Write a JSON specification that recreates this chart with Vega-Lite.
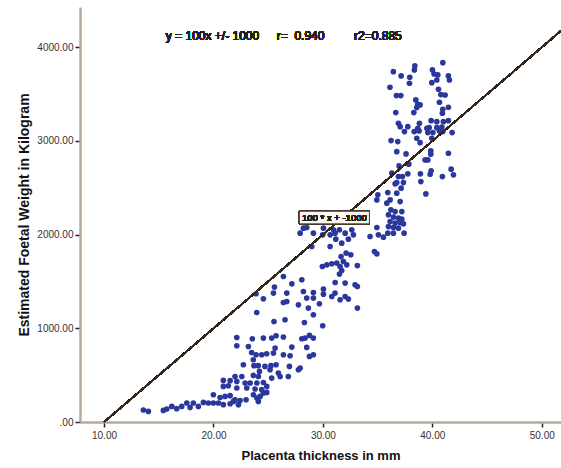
{
  "$schema": "https://vega.github.io/schema/vega-lite/v6.json",
  "width": 481,
  "height": 415,
  "autosize": {"type": "none"},
  "padding": {"left": 80, "top": 7, "right": 0, "bottom": 46},
  "background": "white",
  "config": {
    "view": {"stroke": null},
    "font": "Liberation Sans",
    "axis": {"grid": false, "domainColor": "#b8aa9c", "domainWidth": 2.5, "tickColor": "#222222", "tickWidth": 1.5, "tickSize": 5, "labelFont": "Liberation Sans", "labelFontSize": 10, "labelColor": "#333333", "titleFont": "Liberation Sans", "titleFontWeight": "bold", "titleColor": "#111111"}
  },
  "data": {"values": [
    {"t":38.40,"w":3801},{"t":38.36,"w":3758},{"t":40.96,"w":3836},{"t":36.44,"w":3740},{"t":37.15,"w":3694},
    {"t":37.94,"w":3680},{"t":40.01,"w":3758},{"t":40.16,"w":3715},{"t":40.50,"w":3705},{"t":41.47,"w":3694},
    {"t":41.56,"w":3651},{"t":40.41,"w":3651},{"t":39.95,"w":3622},{"t":37.91,"w":3616},{"t":36.13,"w":3573},
    {"t":40.56,"w":3552},{"t":36.72,"w":3484},{"t":37.12,"w":3484},{"t":40.78,"w":3495},{"t":41.17,"w":3491},
    {"t":38.49,"w":3438},{"t":38.67,"w":3392},{"t":38.88,"w":3385},{"t":40.65,"w":3413},{"t":38.58,"w":3356},
    {"t":36.66,"w":3303},{"t":38.31,"w":3303},{"t":40.96,"w":3339},{"t":41.47,"w":3360},{"t":40.92,"w":3296},
    {"t":36.90,"w":3189},{"t":38.82,"w":3189},{"t":39.89,"w":3217},{"t":40.41,"w":3206},{"t":41.01,"w":3206},
    {"t":41.47,"w":3217},{"t":37.06,"w":3153},{"t":37.76,"w":3153},{"t":38.67,"w":3136},{"t":39.50,"w":3136},
    {"t":39.71,"w":3142},{"t":40.41,"w":3142},{"t":40.87,"w":3147},{"t":37.45,"w":3100},{"t":38.34,"w":3100},
    {"t":38.79,"w":3107},{"t":39.59,"w":3089},{"t":40.05,"w":3089},{"t":40.65,"w":3107},{"t":40.96,"w":3100},
    {"t":41.81,"w":3089},{"t":38.58,"w":3029},{"t":39.95,"w":3029},{"t":36.23,"w":3004},{"t":36.84,"w":2993},
    {"t":38.88,"w":2982},{"t":39.86,"w":2894},{"t":39.86,"w":2859},{"t":36.75,"w":2886},{"t":37.60,"w":2862},
    {"t":41.47,"w":2869},{"t":39.34,"w":2798},{"t":39.59,"w":2798},{"t":36.96,"w":2734},{"t":37.85,"w":2752},
    {"t":41.72,"w":2699},{"t":41.93,"w":2638},{"t":39.89,"w":2681},{"t":36.30,"w":2656},{"t":36.90,"w":2620},
    {"t":37.27,"w":2620},{"t":37.76,"w":2649},{"t":38.91,"w":2649},{"t":39.80,"w":2645},{"t":40.92,"w":2620},
    {"t":36.75,"w":2556},{"t":37.36,"w":2556},{"t":38.95,"w":2566},{"t":36.60,"w":2542},{"t":37.15,"w":2496},
    {"t":35.02,"w":2425},{"t":35.93,"w":2449},{"t":36.75,"w":2443},{"t":39.41,"w":2435},{"t":34.93,"w":2371},
    {"t":36.14,"w":2371},{"t":37.06,"w":2353},{"t":35.84,"w":2336},{"t":36.21,"w":2265},{"t":36.60,"w":2246},
    {"t":37.21,"w":2246},{"t":35.99,"w":2211},{"t":36.44,"w":2187},{"t":36.90,"w":2176},{"t":37.21,"w":2165},
    {"t":36.14,"w":2140},{"t":36.60,"w":2123},{"t":37.06,"w":2129},{"t":37.36,"w":2115},{"t":35.99,"w":2086},
    {"t":36.44,"w":2076},{"t":36.90,"w":2069},{"t":37.42,"w":2016},{"t":36.44,"w":2016},{"t":35.93,"w":2016},
    {"t":34.93,"w":2076},{"t":35.53,"w":1973},{"t":28.22,"w":2069},{"t":28.52,"w":2076},{"t":29.13,"w":2016},
    {"t":30.05,"w":2069},{"t":30.96,"w":2051},{"t":31.51,"w":2051},{"t":32.03,"w":2016},{"t":32.64,"w":2051},
    {"t":32.79,"w":1998},{"t":27.92,"w":2016},{"t":30.66,"w":1998},{"t":34.31,"w":1980},{"t":29.98,"w":1998},
    {"t":31.11,"w":2016},{"t":35.07,"w":1998},{"t":31.18,"w":1952},{"t":31.72,"w":1909},{"t":32.33,"w":1952},
    {"t":30.66,"w":1873},{"t":28.98,"w":1873},{"t":34.71,"w":1820},{"t":34.93,"w":1795},{"t":31.66,"w":1766},
    {"t":32.12,"w":1803},{"t":32.55,"w":1785},{"t":31.87,"w":1713},{"t":29.95,"w":1660},{"t":30.36,"w":1678},
    {"t":30.81,"w":1689},{"t":31.27,"w":1696},{"t":31.57,"w":1660},{"t":32.18,"w":1678},{"t":33.15,"w":1670},
    {"t":31.72,"w":1617},{"t":31.51,"w":1579},{"t":26.39,"w":1553},{"t":28.07,"w":1518},{"t":27.16,"w":1475},
    {"t":31.12,"w":1489},{"t":32.03,"w":1483},{"t":32.94,"w":1465},{"t":33.15,"w":1446},{"t":30.05,"w":1419},
    {"t":28.22,"w":1393},{"t":26.70,"w":1376},{"t":29.13,"w":1382},{"t":28.52,"w":1323},{"t":29.13,"w":1323},
    {"t":30.05,"w":1365},{"t":31.11,"w":1376},{"t":30.81,"w":1340},{"t":31.57,"w":1305},{"t":32.33,"w":1312},
    {"t":32.03,"w":1340},{"t":26.39,"w":1276},{"t":26.70,"w":1286},{"t":27.76,"w":1251},{"t":28.67,"w":1216},
    {"t":29.68,"w":1262},{"t":33.15,"w":1216},{"t":29.13,"w":1145},{"t":26.54,"w":1091},{"t":28.31,"w":1062},
    {"t":29.98,"w":1027},{"t":26.39,"w":907},{"t":28.07,"w":889},{"t":28.37,"w":896},{"t":28.77,"w":924},
    {"t":29.13,"w":896},{"t":27.16,"w":800},{"t":28.52,"w":796},{"t":26.39,"w":718},{"t":27.00,"w":707},
    {"t":28.77,"w":700},{"t":29.13,"w":718},{"t":26.94,"w":593},{"t":27.76,"w":558},{"t":27.92,"w":576},
    {"t":26.84,"w":486},{"t":26.09,"w":486},{"t":25.57,"w":1440},{"t":25.48,"w":1376},{"t":23.89,"w":1369},
    {"t":24.56,"w":1315},{"t":23.95,"w":1169},{"t":25.53,"w":1073},{"t":22.13,"w":902},{"t":23.55,"w":889},
    {"t":24.56,"w":896},{"t":25.32,"w":896},{"t":25.72,"w":921},{"t":22.13,"w":814},{"t":23.19,"w":806},
    {"t":25.63,"w":789},{"t":23.49,"w":742},{"t":23.89,"w":718},{"t":24.41,"w":718},{"t":24.86,"w":729},
    {"t":25.48,"w":736},{"t":23.64,"w":665},{"t":22.73,"w":611},{"t":23.70,"w":601},{"t":24.09,"w":601},
    {"t":24.70,"w":593},{"t":25.25,"w":601},{"t":25.72,"w":611},{"t":24.20,"w":540},{"t":25.17,"w":558},
    {"t":25.93,"w":523},{"t":21.97,"w":486},{"t":22.59,"w":486},{"t":23.65,"w":497},{"t":24.10,"w":486},
    {"t":25.32,"w":469},{"t":20.90,"w":444},{"t":21.52,"w":441},{"t":22.13,"w":433},{"t":22.89,"w":416},
    {"t":23.35,"w":416},{"t":23.96,"w":416},{"t":24.56,"w":422},{"t":24.87,"w":380},{"t":20.90,"w":380},
    {"t":21.36,"w":387},{"t":22.13,"w":363},{"t":23.04,"w":363},{"t":23.80,"w":352},{"t":24.41,"w":345},
    {"t":24.87,"w":316},{"t":19.99,"w":291},{"t":20.60,"w":262},{"t":21.06,"w":273},{"t":21.52,"w":281},
    {"t":21.97,"w":238},{"t":22.43,"w":230},{"t":22.98,"w":238},{"t":23.65,"w":291},{"t":23.96,"w":256},
    {"t":24.26,"w":273},{"t":24.56,"w":309},{"t":24.10,"w":220},{"t":19.08,"w":209},{"t":19.53,"w":203},
    {"t":19.99,"w":203},{"t":20.45,"w":203},{"t":20.90,"w":185},{"t":21.52,"w":195},{"t":21.82,"w":220},
    {"t":22.28,"w":185},{"t":18.16,"w":203},{"t":18.62,"w":166},{"t":17.56,"w":203},{"t":17.10,"w":166},
    {"t":17.86,"w":156},{"t":16.19,"w":166},{"t":16.64,"w":142},{"t":15.73,"w":139},{"t":15.42,"w":124},
    {"t":13.59,"w":128},{"t":14.05,"w":113}
  ]},
  "layer": [
    {
      "mark": {"type": "point", "filled": true, "opacity": 1, "size": 32, "color": "#2a389e"},
      "encoding": {
        "x": {"field": "t", "type": "quantitative", "title": "Placenta thickness in mm",
          "scale": {"domain": [7.8, 51.76], "nice": false, "zero": false},
          "axis": {"values": [10, 20, 30, 40, 50], "format": ".2f", "labelPadding": 3, "titleFontSize": 13, "titlePadding": 9}},
        "y": {"field": "w", "type": "quantitative", "title": "Estimated Foetal Weight in Kilogram",
          "scale": {"domain": [0, 4430], "nice": false},
          "axis": {"values": [0, 1000, 2000, 3000, 4000], "labelExpr": "datum.value == 0 ? '.00' : format(datum.value, '.2f')", "labelPadding": 2, "titleFontSize": 14, "titlePadding": 5}}
      }
    },
    {
      "mark": {"type": "rule", "color": "#3b2a1e", "strokeWidth": 1.2},
      "encoding": {
        "x": {"datum": 10, "type": "quantitative"},
        "y": {"datum": 0, "type": "quantitative"},
        "x2": {"datum": 51.76},
        "y2": {"datum": 4176}
      }
    },
    {
      "mark": {"type": "rect", "fill": "#fbf8f2", "stroke": "#4a3a2c", "strokeWidth": 1},
      "encoding": {
        "x": {"datum": 27.85, "type": "quantitative"},
        "x2": {"datum": 34.25},
        "y": {"datum": 2115, "type": "quantitative"},
        "y2": {"datum": 2250}
      }
    },
    {
      "mark": {"type": "text", "text": "100 * x + -1000", "fontSize": 9.5, "fontWeight": "normal", "color": "#222222", "align": "center", "baseline": "middle"},
      "encoding": {
        "x": {"datum": 31.05, "type": "quantitative"},
        "y": {"datum": 2182, "type": "quantitative"}
      }
    },
    {
      "mark": {"type": "text", "text": "y = 100x +/- 1000", "fontSize": 12, "fontWeight": "normal", "color": "#222222", "align": "left", "baseline": "middle"},
      "encoding": {
        "x": {"datum": 15.64, "type": "quantitative"},
        "y": {"datum": 4121, "type": "quantitative"}
      }
    },
    {
      "mark": {"type": "text", "text": "r=\u00a0\u00a00.940", "fontSize": 12, "fontWeight": "normal", "color": "#222222", "align": "left", "baseline": "middle"},
      "encoding": {
        "x": {"datum": 25.78, "type": "quantitative"},
        "y": {"datum": 4121, "type": "quantitative"}
      }
    },
    {
      "mark": {"type": "text", "text": "r2=0.885", "fontSize": 12, "fontWeight": "normal", "color": "#222222", "align": "left", "baseline": "middle"},
      "encoding": {
        "x": {"datum": 32.85, "type": "quantitative"},
        "y": {"datum": 4121, "type": "quantitative"}
      }
    }
  ]
}
